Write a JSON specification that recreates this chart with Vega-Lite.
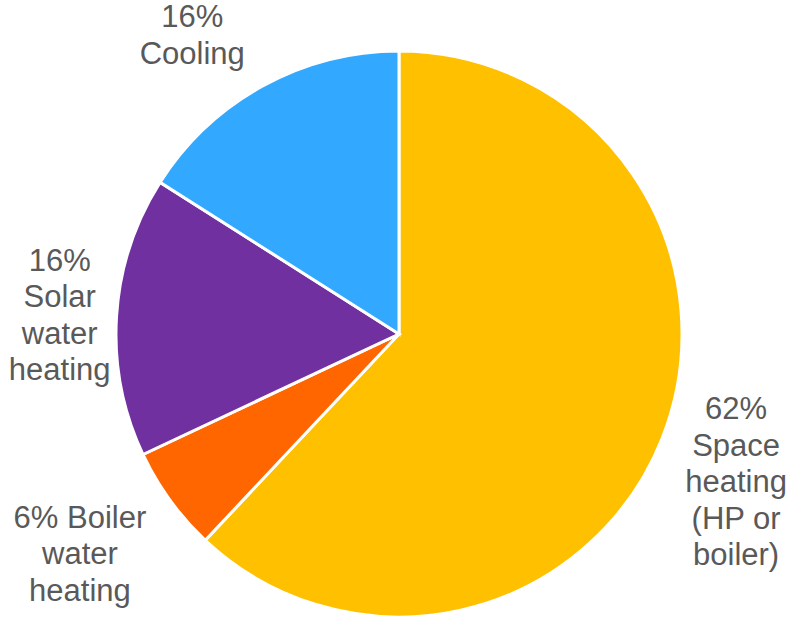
{
  "$schema": "https://vega.github.io/schema/vega-lite/v6.json",
  "width": 786,
  "height": 566,
  "autosize": "none",
  "padding": {"left": 6, "top": 51, "right": 0, "bottom": 0},
  "background": "white",
  "data": {
    "values": [
      {"cat": "Space heating", "value": 62, "order": 1, "label": ["62%", "Space", "heating", "(HP or", "boiler)"]},
      {"cat": "Boiler water heating", "value": 6, "order": 2, "label": ["6% Boiler", "water", "heating"]},
      {"cat": "Solar water heating", "value": 16, "order": 3, "label": ["16%", "Solar", "water", "heating"]},
      {"cat": "Cooling", "value": 16, "order": 4, "label": ["16%", "Cooling"]}
    ]
  },
  "encoding": {
    "theta": {"field": "value", "type": "quantitative", "stack": true},
    "order": {"field": "order", "type": "quantitative"}
  },
  "layer": [
    {
      "mark": {"type": "arc", "outerRadius": 283, "stroke": "white", "strokeWidth": 3},
      "encoding": {
        "color": {
          "field": "cat", "type": "nominal", "legend": null,
          "scale": {
            "domain": ["Space heating", "Boiler water heating", "Solar water heating", "Cooling"],
            "range": ["#FFC000", "#FF6600", "#7030A0", "#33A8FF"]
          }
        }
      }
    },
    {
      "mark": {"type": "text", "radius": 340, "dx": 21, "dy": -49, "align": "center", "baseline": "middle", "font": "Liberation Sans", "fontSize": 31, "lineHeight": 36.5, "fill": "#595959"},
      "encoding": {"text": {"condition": {"test": "datum.cat === 'Space heating'", "field": "label"}, "value": ""}}
    },
    {
      "mark": {"type": "text", "radius": 340, "dx": -44, "dy": -15, "align": "center", "baseline": "middle", "font": "Liberation Sans", "fontSize": 31, "lineHeight": 36.5, "fill": "#595959"},
      "encoding": {"text": {"condition": {"test": "datum.cat === 'Boiler water heating'", "field": "label"}, "value": ""}}
    },
    {
      "mark": {"type": "text", "radius": 340, "dx": 0, "dy": -51, "align": "center", "baseline": "middle", "font": "Liberation Sans", "fontSize": 31, "lineHeight": 36.5, "fill": "#595959"},
      "encoding": {"text": {"condition": {"test": "datum.cat === 'Solar water heating'", "field": "label"}, "value": ""}}
    },
    {
      "mark": {"type": "text", "radius": 340, "dx": -43, "dy": -18, "align": "center", "baseline": "middle", "font": "Liberation Sans", "fontSize": 31, "lineHeight": 36.5, "fill": "#595959"},
      "encoding": {"text": {"condition": {"test": "datum.cat === 'Cooling'", "field": "label"}, "value": ""}}
    }
  ]
}
